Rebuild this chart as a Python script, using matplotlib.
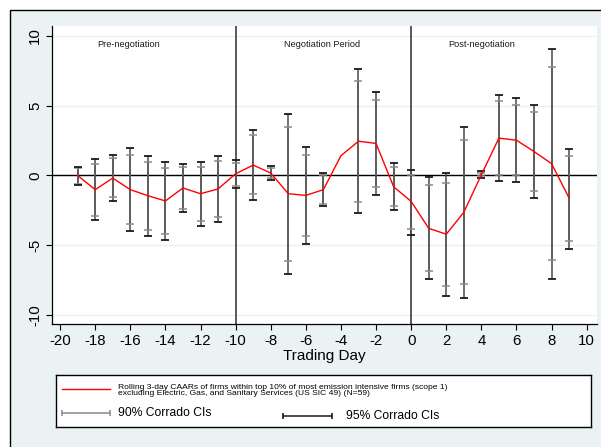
import numpy as np
import matplotlib
matplotlib.use("Agg")
import matplotlib.pyplot as plt
from matplotlib.patches import Rectangle

plt.rcParams['font.family'] = ['Liberation Sans', 'DejaVu Sans']
plt.rcParams['axes.unicode_minus'] = False

# event days and rolling 3-day CAARs (%)
days = np.arange(-19, 10)
caar = [0.0, -1.02, -0.19, -1.02, -1.45, -1.83, -0.9, -1.31, -0.97, 0.12,
        0.74, 0.17, -1.31, -1.43, -1.02, 1.41, 2.45, 2.29, -0.81, -1.86,
        -3.79, -4.21, -2.64, 0.05, 2.67, 2.52, 1.71, 0.84, -1.62]

# Corrado confidence intervals (no interval on day -4)
ci90_lo = [-0.6, -2.88, -1.57, -3.5, -3.88, -4.16, -2.38, -3.26, -2.97, -0.74,
           -1.36, -0.19, -6.16, -4.33, -2.05, np.nan, -1.88, -0.86, -2.21, -3.86,
           -6.86, -7.95, -7.81, -0.05, 0.05, 0.0, -1.12, -6.07, -4.69]
ci90_hi = [0.5, 0.84, 1.22, 1.46, 0.95, 0.5, 0.57, 0.6, 1.02, 0.88,
           2.88, 0.5, 3.5, 1.43, 0.05, np.nan, 6.79, 5.41, 0.62, 0.05,
           -0.66, -0.52, 2.55, 0.2, 5.36, 5.05, 4.55, 7.74, 1.36]
ci95_lo = [-0.71, -3.21, -1.83, -3.97, -4.33, -4.62, -2.62, -3.6, -3.33, -0.93,
           -1.76, -0.31, -7.09, -4.88, -2.21, np.nan, -2.71, -1.43, -2.45, -4.24,
           -7.43, -8.64, -8.76, -0.17, -0.43, -0.5, -1.64, -7.4, -5.26]
ci95_hi = [0.62, 1.17, 1.46, 1.93, 1.41, 0.93, 0.79, 0.93, 1.41, 1.07,
           3.26, 0.64, 4.41, 2.0, 0.14, np.nan, 7.62, 6.0, 0.88, 0.38,
           -0.09, 0.17, 3.5, 0.29, 5.79, 5.52, 5.05, 9.07, 1.9]

periods = ["Pre-negotiation", "Negotiation Period", "Post-negotiation"]
period_x = [-16.1, -5.05, 4.0]
breaks = [-10, 0]

W, H = 601, 447
fig = plt.figure(figsize=(W / 100, H / 100), dpi=100, facecolor='white')
bg = '#EAF2F3'
fig.patches.append(Rectangle((10 / W, -0.1), 1.2, 1 - 10 / H + 0.1,
                             transform=fig.transFigure, facecolor=bg,
                             edgecolor='black', lw=1, zorder=-1))

ax = fig.add_axes([52 / W, 1 - 324 / H, (596.7 - 52) / W, (324 - 26) / H])
ax.set_facecolor('white')

gray90 = '#8a8a8a'
dark95 = '#1a1a1a'
ax.vlines(days, ci90_lo, ci90_hi, color=gray90, lw=1.1, zorder=2)
ax.vlines(days, ci95_lo, ci95_hi, color='#4a4a4a', lw=1.1, zorder=2)
ax.plot(days, ci90_lo, ls='none', marker='_', ms=5.5, mew=1.1, color=gray90, zorder=3)
ax.plot(days, ci90_hi, ls='none', marker='_', ms=5.5, mew=1.1, color=gray90, zorder=3)
ax.plot(days, ci95_lo, ls='none', marker='_', ms=5.5, mew=1.3, color=dark95, zorder=3)
ax.plot(days, ci95_hi, ls='none', marker='_', ms=5.5, mew=1.3, color=dark95, zorder=3)

ax.axhline(0, color='black', lw=1, zorder=1.5)
for b in breaks:
    ax.axvline(b, color='#3c3c3c', lw=1.2, zorder=1.5)
ax.plot(days, caar, color='#FF0000', lw=1, zorder=4)

for name, px in zip(periods, period_x):
    ax.text(px, 9.34, name, fontsize=6.6, ha='center', va='center', color='#1a1a1a')

ax.set_xlim(-20.46, 10.57)
ax.set_ylim(-10.64, 10.7)
ax.set_xticks(np.arange(-20, 11, 2))
ax.set_yticks([-10, -5, 0, 5, 10])
ax.set_yticklabels(['-10', '-5', '0', '5', '10'], rotation=90, va='center')
ax.tick_params(labelsize=10.8, length=4, width=0.8, direction='out', pad=3)
ax.grid(axis='y', color=bg, lw=1)
ax.set_axisbelow(True)
for s in ['top', 'right']:
    ax.spines[s].set_visible(False)
for s in ['left', 'bottom']:
    ax.spines[s].set_linewidth(0.9)
fig.text(324 / W, 1 - 356 / H, "Trading Day", fontsize=11, ha='center', va='center')

# legend box drawn in pixel units
lg = fig.add_axes([56 / W, 1 - 426.7 / H, (591 - 56) / W, (426.7 - 375) / H])
lg.set_xlim(56, 591)
lg.set_ylim(426.7, 375)
lg.set_xticks([])
lg.set_yticks([])
lg.set_facecolor('white')
for s in lg.spines.values():
    s.set_linewidth(1)
lg.plot([62, 110], [389.3, 389.3], color='#FF0000', lw=1)
lg.text(118, 390.5, "Rolling 3-day CAARs of firms within top 10% of most emission intensive firms (scope 1)\n"
        "excluding Electric, Gas, and Sanitary Services (US SIC 49) (N=59)",
        fontsize=6.1, va='center', linespacing=0.95)
lg.plot([62, 110], [413.3, 413.3], color=gray90, lw=1.1)
lg.plot([62, 110], [413.3, 413.3], ls='none', marker='|', ms=5, mew=1.1, color=gray90)
lg.text(118, 413.3, "90% Corrado CIs", fontsize=8.7, va='center')
lg.plot([282.7, 331.7], [416, 416], color=dark95, lw=1.1)
lg.plot([282.7, 331.7], [416, 416], ls='none', marker='|', ms=5, mew=1.2, color=dark95)
lg.text(346, 416, "95% Corrado CIs", fontsize=8.7, va='center')

fig.savefig("out.png", dpi=100, facecolor='white')
